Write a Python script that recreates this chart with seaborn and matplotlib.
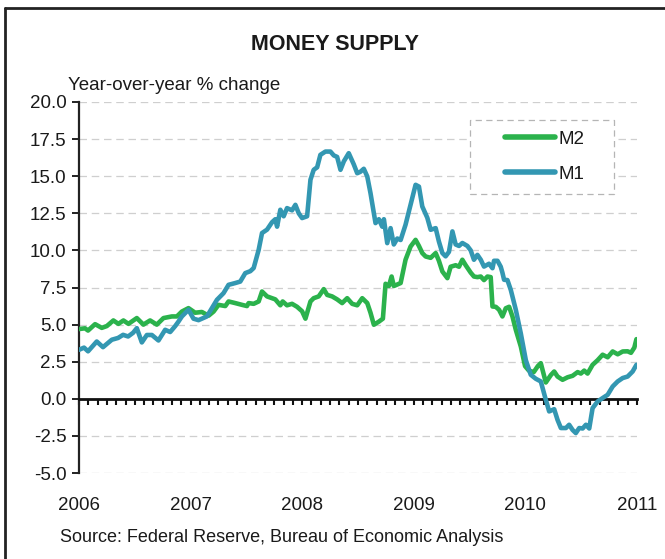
import matplotlib
matplotlib.use("Agg")
import matplotlib.pyplot as plt
import seaborn as sns
import pandas as pd
from matplotlib.patches import Rectangle
from matplotlib.lines import Line2D

# ---------------- data (time in years after start of 2006, YoY % change) ----
base_year = 2006
m2_t = [0.000, 0.054, 0.081, 0.144, 0.204, 0.249, 0.308, 0.353, 0.398, 0.443,
        0.518, 0.577, 0.637, 0.697, 0.757, 0.832, 0.877, 0.922, 0.981, 1.041,
        1.101, 1.161, 1.206, 1.250, 1.311, 1.340, 1.400, 1.461, 1.505, 1.520,
        1.565, 1.610, 1.640, 1.685, 1.759, 1.804, 1.825, 1.864, 1.909, 1.954,
        1.999, 2.029, 2.074, 2.103, 2.148, 2.193, 2.224, 2.268, 2.313, 2.358,
        2.403, 2.448, 2.493, 2.538, 2.583, 2.612, 2.642, 2.687, 2.723, 2.747,
        2.777, 2.801, 2.821, 2.882, 2.926, 2.971, 3.016, 3.046, 3.076, 3.106,
        3.151, 3.196, 3.225, 3.256, 3.301, 3.330, 3.375, 3.405, 3.435, 3.465,
        3.510, 3.539, 3.570, 3.600, 3.629, 3.660, 3.689, 3.705, 3.734, 3.764,
        3.794, 3.824, 3.854, 3.884, 3.914, 3.959, 3.997, 4.031, 4.075, 4.111,
        4.138, 4.183, 4.228, 4.258, 4.288, 4.333, 4.378, 4.423, 4.468, 4.497,
        4.527, 4.557, 4.602, 4.647, 4.692, 4.737, 4.782, 4.827, 4.872, 4.916,
        4.946, 4.976, 4.995]
m2_v = [4.70, 4.75, 4.60, 5.03, 4.78, 4.90, 5.28, 5.05, 5.28, 5.05,
        5.44, 5.00, 5.28, 5.00, 5.44, 5.55, 5.55, 5.88, 6.11, 5.80,
        5.85, 5.60, 5.88, 6.33, 6.25, 6.56, 6.45, 6.33, 6.25, 6.45,
        6.40, 6.56, 7.23, 6.90, 6.70, 6.30, 6.56, 6.30, 6.40, 6.20,
        5.90, 5.40, 6.56, 6.78, 6.90, 7.39, 7.00, 6.90, 6.70, 6.45,
        6.78, 6.40, 6.30, 6.78, 6.45, 5.80, 4.99, 5.20, 5.40, 7.75,
        7.60, 8.24, 7.60, 7.80, 9.37, 10.26, 10.71, 10.30, 9.82, 9.59,
        9.50, 9.82, 9.30, 8.58, 8.13, 8.90, 9.00, 8.90, 9.37, 9.00,
        8.50, 8.24, 8.20, 8.24, 8.00, 8.24, 8.20, 6.22, 6.20, 6.00,
        5.55, 6.10, 6.20, 5.55, 4.65, 3.52, 2.20, 1.90, 1.80, 2.20,
        2.40, 1.10, 1.60, 1.84, 1.50, 1.28, 1.45, 1.55, 1.80, 1.70,
        1.90, 1.70, 2.29, 2.60, 2.97, 2.80, 3.19, 3.00, 3.19, 3.20,
        3.10, 3.45, 4.02]

m1_t = [0.000, 0.045, 0.081, 0.159, 0.215, 0.294, 0.350, 0.395, 0.440, 0.485,
        0.518, 0.563, 0.608, 0.653, 0.712, 0.772, 0.817, 0.862, 0.891, 0.922,
        0.981, 1.026, 1.071, 1.146, 1.191, 1.236, 1.295, 1.340, 1.400, 1.445,
        1.490, 1.535, 1.565, 1.610, 1.640, 1.685, 1.730, 1.759, 1.775, 1.804,
        1.834, 1.864, 1.909, 1.939, 1.969, 1.999, 2.044, 2.074, 2.103, 2.134,
        2.163, 2.208, 2.253, 2.283, 2.313, 2.343, 2.373, 2.417, 2.462, 2.493,
        2.522, 2.552, 2.583, 2.612, 2.642, 2.657, 2.687, 2.717, 2.732, 2.762,
        2.792, 2.821, 2.852, 2.882, 2.926, 2.971, 3.016, 3.046, 3.076, 3.121,
        3.151, 3.196, 3.225, 3.256, 3.285, 3.315, 3.346, 3.375, 3.405, 3.435,
        3.480, 3.510, 3.539, 3.570, 3.600, 3.629, 3.674, 3.705, 3.719, 3.750,
        3.779, 3.794, 3.809, 3.839, 3.869, 3.914, 3.959, 4.004, 4.048, 4.093,
        4.138, 4.183, 4.213, 4.258, 4.288, 4.318, 4.363, 4.392, 4.423, 4.452,
        4.482, 4.513, 4.542, 4.572, 4.602, 4.647, 4.692, 4.737, 4.782, 4.827,
        4.872, 4.916, 4.961, 4.995]
m1_v = [3.30, 3.45, 3.20, 3.86, 3.48, 3.98, 4.10, 4.31, 4.20, 4.45,
        4.76, 3.80, 4.30, 4.30, 3.93, 4.65, 4.50, 4.90, 5.20, 5.55,
        6.00, 5.40, 5.30, 5.55, 6.11, 6.67, 7.12, 7.68, 7.80, 7.90,
        8.47, 8.60, 8.81, 10.04, 11.17, 11.40, 11.90, 12.10, 11.60, 12.74,
        12.30, 12.85, 12.70, 13.07, 12.50, 12.18, 12.30, 14.76, 15.43, 15.60,
        16.44, 16.66, 16.66, 16.40, 16.30, 15.43, 16.00, 16.55, 15.80, 15.20,
        15.30, 15.50, 14.98, 13.86, 12.51, 11.84, 12.10, 11.60, 12.10, 10.49,
        11.50, 10.40, 10.80, 10.70, 11.73, 13.07, 14.42, 14.30, 12.96, 12.20,
        11.39, 11.50, 10.60, 9.82, 9.60, 9.90, 11.28, 10.40, 10.30, 10.50,
        10.30, 10.00, 9.37, 9.70, 9.37, 8.91, 9.10, 8.80, 9.30, 9.30,
        8.90, 8.50, 8.02, 8.00, 7.34, 6.00, 4.40, 2.60, 1.62, 1.35,
        1.17, -0.07, -0.85, -0.70, -1.42, -1.97, -1.97, -1.75, -2.10, -2.31,
        -1.97, -2.00, -1.75, -2.00, -0.63, -0.18, 0.05, 0.27, 0.83, 1.17,
        1.40, 1.50, 1.84, 2.29]

series_names = ["M2", "M1"]
series_colors = ["#2bb24c", "#3397b2"]
year_labels = ["2006", "2007", "2008", "2009", "2010", "2011"]
y_ticks = [-5.0, -2.5, 0.0, 2.5, 5.0, 7.5, 10.0, 12.5, 15.0, 17.5, 20.0]

title_text = "MONEY SUPPLY"
ylabel_text = "Year-over-year % change"
source_text = "Source: Federal Reserve, Bureau of Economic Analysis"

# ---------------- build data frame ------------------------------------------
df = pd.concat([
    pd.DataFrame({"year": [base_year + t for t in m2_t], "value": m2_v, "series": "M2"}),
    pd.DataFrame({"year": [base_year + t for t in m1_t], "value": m1_v, "series": "M1"}),
], ignore_index=True)

sns.set_theme(style="white")
plt.rcParams["font.family"] = ["Liberation Sans", "DejaVu Sans"]
TXT = "#1a1a1a"

fig = plt.figure(figsize=(6.65, 5.59), dpi=100)
ax = fig.add_axes([79 / 665, 1 - 473 / 559, (637 - 79) / 665, (473 - 102) / 559])

sns.lineplot(data=df, x="year", y="value", hue="series", hue_order=series_names,
             palette=dict(zip(series_names, series_colors)), estimator=None,
             sort=False, linewidth=3.3, ax=ax, zorder=3)

ax.set_xlim(2006, 2011)
ax.set_ylim(-5, 20)
ax.set_xlabel("")
ax.set_ylabel("")

# y axis
ax.set_yticks(y_ticks)
ax.set_yticklabels([f"{v:.1f}" for v in y_ticks], fontsize=13.5, color=TXT)
ax.tick_params(axis="y", direction="out", length=5, width=1.4, color="#222222",
               pad=4, left=True)
ax.yaxis.grid(True, linestyle=(0, (6.0, 3.8)), color="#cfcfcf", linewidth=0.9)
ax.xaxis.grid(False)
ax.set_axisbelow(True)

# spines
for s in ["top", "right"]:
    ax.spines[s].set_visible(False)
ax.spines["left"].set_color("#222222")
ax.spines["left"].set_linewidth(1.6)
ax.spines["bottom"].set_position(("data", 0))
ax.spines["bottom"].set_color("#111111")
ax.spines["bottom"].set_linewidth(2.0)

# monthly ticks on the zero line
ax.set_xticks([2006 + k / 12 for k in range(61)])
ax.tick_params(axis="x", direction="out", length=4.5, width=1.5, color="#111111",
               labelbottom=False, bottom=True)

# year labels at the bottom of the plot area
sec = ax.secondary_xaxis(0.0)
sec.set_xticks([int(y) for y in year_labels])
sec.set_xticklabels(year_labels, fontsize=13.5, color=TXT)
sec.tick_params(length=0, pad=17)
sec.spines["bottom"].set_visible(False)

# legend with dashed white box
leg_box = Rectangle(((470 - 79) / 558, (473 - 194) / 371), (614 - 470) / 558,
                    (194 - 120) / 371, transform=ax.transAxes, facecolor="white",
                    edgecolor="#b5b5b5", linestyle=(0, (5, 3.5)), linewidth=0.9,
                    zorder=4)
ax.add_patch(leg_box)
handles, labels = ax.get_legend_handles_labels()
for h in handles:
    h.set_linewidth(4.0)
    h.set_solid_capstyle("round")
leg = ax.legend(handles, labels, loc="upper left",
                bbox_to_anchor=((499 - 79) / 558, (473 - 125) / 371),
                frameon=False, fontsize=13.5, handlelength=2.7,
                handletextpad=0.15, labelspacing=0.95, borderpad=0.3,
                borderaxespad=0)
leg.set_zorder(5)
for t in leg.get_texts():
    t.set_color(TXT)

# texts
fig.text(335 / 665, 1 - 45 / 559, title_text, ha="center", va="center",
         fontsize=15.5, fontweight="bold", color=TXT)
fig.text(68 / 665, 1 - 85 / 559, ylabel_text, ha="left", va="center",
         fontsize=13.5, color=TXT)
fig.text(60 / 665, 1 - 538 / 559, source_text, ha="left", va="center",
         fontsize=13, color=TXT)

# outer frame (top and left edges)
fig.add_artist(Line2D([4.5 / 665, 1.0], [1 - 7.5 / 559, 1 - 7.5 / 559],
                      transform=fig.transFigure, color="#222222", linewidth=2.0))
fig.add_artist(Line2D([4.5 / 665, 4.5 / 665], [0.0, 1 - 7.5 / 559],
                      transform=fig.transFigure, color="#222222", linewidth=2.0))

fig.savefig("out.png", dpi=100, facecolor="white")
